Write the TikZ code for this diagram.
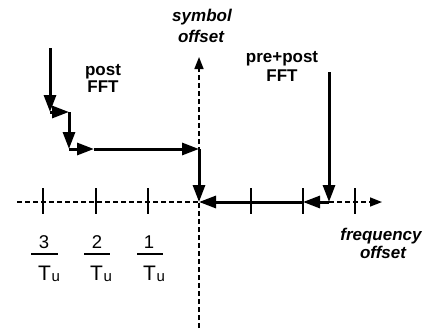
\documentclass[tikz,border=0pt]{standalone}
\usepackage{fontspec}
\setmainfont{Liberation Sans}
\usetikzlibrary{arrows.meta}
\begin{document}
\begin{tikzpicture}[x=1pt,y=-1pt,
  axisline/.style={line width=1.6pt,dash pattern=on 5pt off 3pt,
    -{Triangle[length=12pt,width=9pt]}},
  steparrow/.style={line width=3pt,-{Triangle[length=17pt,width=12pt]}},
  tick/.style={line width=1.7pt},
  fracbar/.style={line width=1.4pt},
  lbl/.style={font=\fontsize{17}{19}\selectfont\bfseries,anchor=base,inner sep=0pt},
  ilbl/.style={lbl,font=\fontsize{17}{19}\selectfont\bfseries\itshape},
  num/.style={font=\fontsize{18.5}{19}\selectfont,anchor=base,inner sep=0pt},
  den/.style={anchor=base west,inner sep=0pt}]
\useasboundingbox (0,0) rectangle (427,332);

% axes
\coordinate (xl) at (17,202);
\coordinate (xr) at (382,202);
\coordinate (yt) at (199,57);
\coordinate (yb) at (199,328);
\coordinate (O) at (199,202);
\draw[axisline] (xl) -- (xr);
\draw[axisline] (yb) -- (yt);

% tick marks
\foreach \tx in {43,96,148,251,303,355}
  \draw[tick] (\tx,188) -- (\tx,214);

% post FFT staircase
\coordinate (p0) at (50,48);
\coordinate (p1) at (50,112);
\coordinate (p2) at (69,112);
\coordinate (p3) at (69,149);
\coordinate (p4) at (94,149);
\coordinate (p5) at (199,149);
\draw[steparrow] (p0) -- (p1);
\draw[steparrow] (p1) -- (p2);
\draw[steparrow] (p2) -- (p3);
\draw[steparrow] (p3) -- (p4);
\draw[steparrow] (p4) -- (p5);
\draw[steparrow] (p5) -- (O);

% pre+post FFT path
\coordinate (q0) at (329,72);
\coordinate (q1) at (329,202);
\coordinate (t2) at (303,202);
\draw[steparrow] (q0) -- (q1);
\draw[steparrow] (q1) -- (t2);
\draw[steparrow] (t2) -- (O);

% labels
\node[lbl] (post1) at (103,75) {post};
\node[lbl] (post2) at (103,92) {FFT};
\node[lbl] (pp1) at (282,62) {pre+post};
\node[lbl] (pp2) at (282,81) {FFT};
\node[ilbl] (sym1) at (202,21) {symbol};
\node[ilbl] (sym2) at (201,42) {offset};
\node[ilbl] (frq1) at (381,240) {frequency};
\node[ilbl] (frq2) at (383,258) {offset};

% tick values
\newcommand{\Tsub}{{\fontsize{21}{22}\selectfont T}\kern0.5pt\raisebox{-1.5pt}{\fontsize{15}{15}\selectfont u}}
\node[num] (n3) at (44,248) {3};
\draw[fracbar] (31,254) -- (58,254);
\node[den] (d3) at (38,280) {\Tsub};
\node[num] (n2) at (97,248) {2};
\draw[fracbar] (84,254) -- (110,254);
\node[den] (d2) at (90,280) {\Tsub};
\node[num] (n1) at (149,248) {1};
\draw[fracbar] (137,254) -- (163,254);
\node[den] (d1) at (143,280) {\Tsub};
\end{tikzpicture}
\end{document}
